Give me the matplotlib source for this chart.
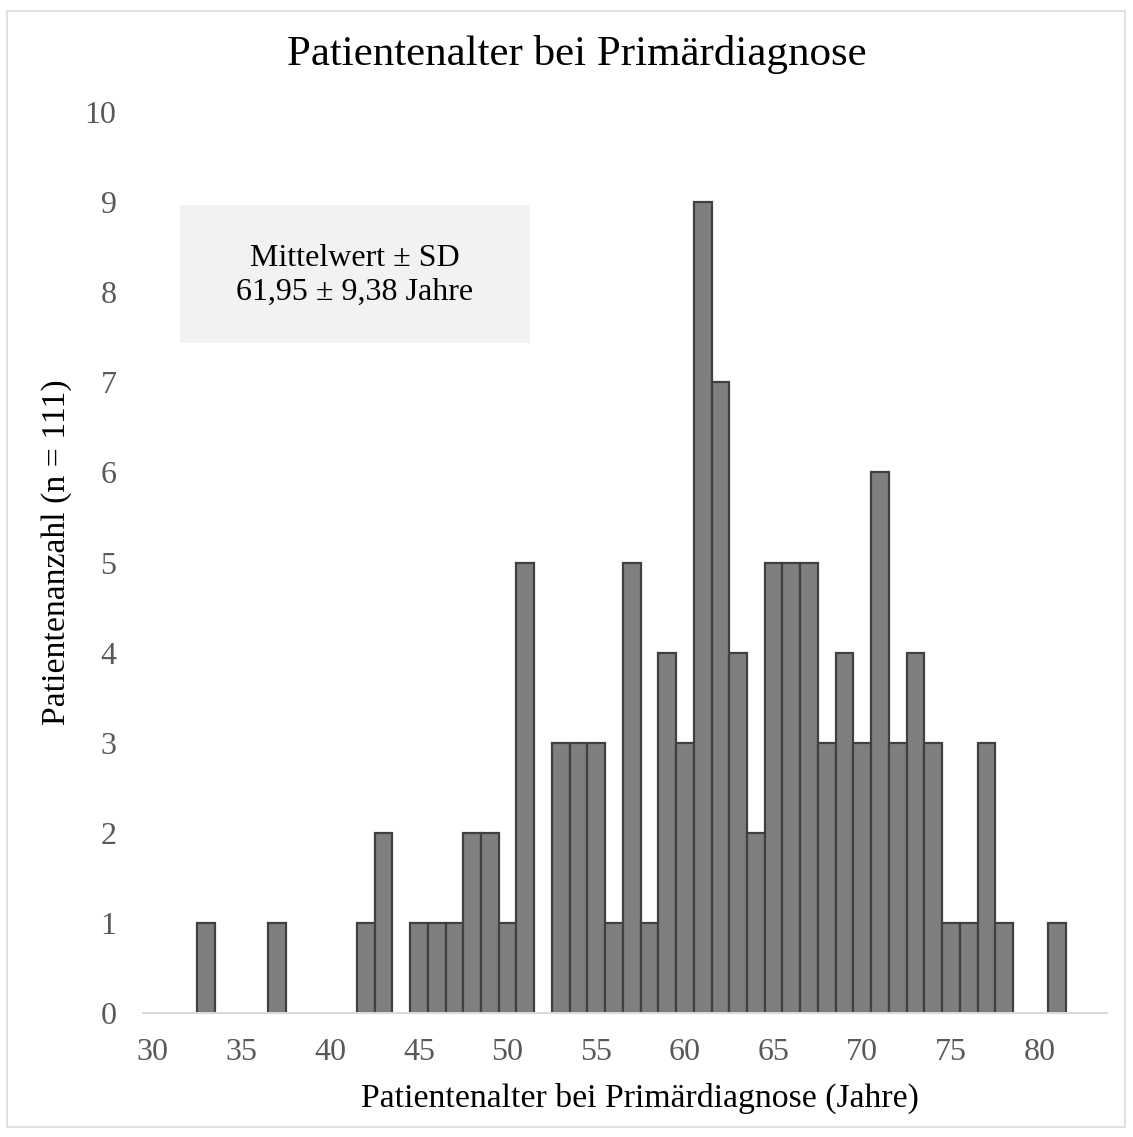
import matplotlib.pyplot as plt
from matplotlib.patches import Rectangle

# Patientenalter (Jahre) und Anzahl je Alter
ages = [33, 37, 42, 43, 45, 46, 47, 48, 49, 50, 51, 53, 54, 55, 56, 57, 58, 59, 60,
        61, 62, 63, 64, 65, 66, 67, 68, 69, 70, 71, 72, 73, 74, 75, 76, 77, 78, 81]
counts = [1, 1, 1, 2, 1, 1, 1, 2, 2, 1, 5, 3, 3, 3, 1, 5, 1, 4, 3,
          9, 7, 4, 2, 5, 5, 5, 3, 4, 3, 6, 3, 4, 3, 1, 1, 3, 1, 1]
x_ticks = [30, 35, 40, 45, 50, 55, 60, 65, 70, 75, 80]
y_ticks = list(range(0, 11))

plt.rcParams["font.family"] = ["Liberation Serif", "DejaVu Serif"]

W, H = 1133, 1137
fig = plt.figure(figsize=(W / 100, H / 100), dpi=100)

# outer chart border
fig.patches.append(Rectangle((7 / W, 1 - 1127 / H), 1118 / W, 1116 / H,
                             transform=fig.transFigure, fill=False,
                             edgecolor="#d9d9d9", linewidth=1.2))

ax = fig.add_axes([143 / W, 1 - 1013 / H, (1107 - 143) / W, (1013 - 112) / H])
ax.bar(ages, counts, width=1.0, color="#7f7f7f", edgecolor="#404040", linewidth=1.6, zorder=2)

ax.set_xlim(29.44, 83.8)
ax.set_ylim(0, 10)
ax.set_xticks(x_ticks)
ax.set_yticks(y_ticks)
for s in ["top", "right", "left"]:
    ax.spines[s].set_visible(False)
ax.spines["bottom"].set_color("#d9d9d9")
ax.spines["bottom"].set_linewidth(1.5)
ax.spines["bottom"].set_zorder(3)
ax.tick_params(axis="both", length=0, labelsize=23, labelcolor="#595959")
ax.tick_params(axis="y", pad=19)
ax.tick_params(axis="x", pad=18)

# statistics box (mean +- SD)
box = Rectangle((180 / W, 1 - 343 / H), 350 / W, 138 / H, transform=fig.transFigure,
                facecolor="#f2f2f2", edgecolor="none", zorder=1)
ax.add_patch(box)
box.set_clip_on(False)
fig.text(355 / W, 1 - 275.5 / H, "Mittelwert \u00b1 SD\n61,95 \u00b1 9,38 Jahre",
         ha="center", va="center", fontsize=23, color="black", linespacing=1.2)

fig.text(577 / W, 1 - 55 / H, "Patientenalter bei Primärdiagnose",
         ha="center", va="center", fontsize=31, color="black")
fig.text(640 / W, 1 - 1098 / H, "Patientenalter bei Primärdiagnose (Jahre)",
         ha="center", va="center", fontsize=24.3, color="black")
fig.text(57 / W, 1 - 552 / H, "Patientenanzahl (n = 111)", rotation=90,
         ha="center", va="center", fontsize=24.3, color="black")

fig.savefig("out.png", dpi=100)
